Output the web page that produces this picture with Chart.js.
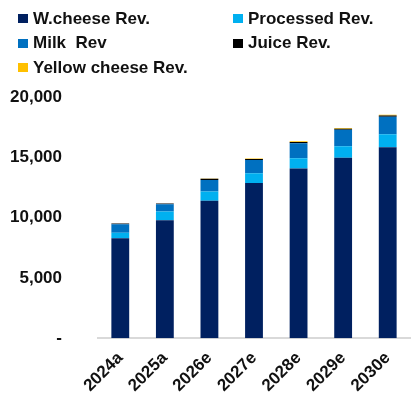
<!DOCTYPE html>
<html>
<head>
<meta charset="utf-8">
<script src="https://cdn.jsdelivr.net/npm/chart.js@4"></script>
<style>
  html, body { margin: 0; padding: 0; background: #fff; }
  #wrap { position: relative; width: 416px; height: 398px; }
  #legend {
    position: absolute; left: 18px; top: 9px;
    display: grid; grid-template-columns: 215px 170px; row-gap: 5px;
    font: bold 17px "Liberation Sans", Arial, sans-serif; color: #111;
  }
  #legend .item { display: flex; align-items: center; height: 19.5px; white-space: pre; }
  #legend .box { width: 10px; height: 9px; margin-right: 5px; }
</style>
</head>
<body>
<div id="wrap">
  <div id="legend"></div>
  <canvas id="revChart" width="416" height="398"></canvas>
</div>
<script>
// Revenue by product line, actuals (a) and estimates (e)
const years = ['2024a', '2025a', '2026e', '2027e', '2028e', '2029e', '2030e'];
const wCheeseRev = [8275, 9780, 11390, 12860, 14060, 14970, 15830];
const processedRev = [475, 720, 780, 810, 860, 950, 1090];
const milkRev = [690, 610, 940, 1110, 1250, 1360, 1440];
const juiceRev = [60, 60, 110, 70, 100, 90, 100];
const yellowCheeseRev = [0, 0, 30, 40, 60, 50, 70];
const yTicks = [0, 5000, 10000, 15000, 20000];

const fontBold = { family: '"Liberation Sans", Arial, sans-serif', weight: 'bold', size: 17 };

function series(label, data, color) {
  return { label, data, backgroundColor: color, borderWidth: 0,
           barPercentage: 0.8, categoryPercentage: 0.5 };
}

const ctx = document.getElementById('revChart').getContext('2d');
const revChart = new Chart(ctx, {
  type: 'bar',
  data: {
    labels: years,
    datasets: [
      series('W.cheese Rev.', wCheeseRev, '#002060'),
      series('Processed Rev.', processedRev, '#00B0F0'),
      series('Milk  Rev', milkRev, '#0070C0'),
      series('Juice Rev.', juiceRev, '#000000'),
      series('Yellow cheese Rev.', yellowCheeseRev, '#FFC000')
    ]
  },
  options: {
    responsive: false,
    animation: false,
    layout: { padding: { top: 97, left: 8, right: 6, bottom: 0 } },
    plugins: {
      legend: { display: false },
      tooltip: { enabled: false }
    },
    scales: {
      x: {
        stacked: true,
        grid: { display: false },
        border: { display: true, color: '#d9d9d9', width: 2 },
        ticks: { color: '#111', font: fontBold, maxRotation: 45, minRotation: 45, padding: 2 },
        // rotated labels fit under the bars; don't let them widen the left margin
        afterFit: axis => { axis.paddingLeft = 0; axis.paddingRight = 0; }
      },
      y: {
        stacked: true,
        min: 0,
        max: 20000,
        afterBuildTicks: axis => { axis.ticks = yTicks.map(v => ({ value: v })); },
        afterFit: axis => { axis.width = 90; },
        grid: { display: false, drawTicks: false },
        border: { display: false },
        ticks: {
          color: '#111', font: fontBold, padding: 36,
          callback: v => v === 0 ? '-' : v.toLocaleString('en-US')
        }
      }
    }
  }
});

// Two-column legend built from the datasets
const legendEl = document.getElementById('legend');
revChart.data.datasets.forEach(ds => {
  const item = document.createElement('div');
  item.className = 'item';
  const box = document.createElement('span');
  box.className = 'box';
  box.style.background = ds.backgroundColor;
  item.appendChild(box);
  item.appendChild(document.createTextNode(ds.label));
  legendEl.appendChild(item);
});
</script>
</body>
</html>
